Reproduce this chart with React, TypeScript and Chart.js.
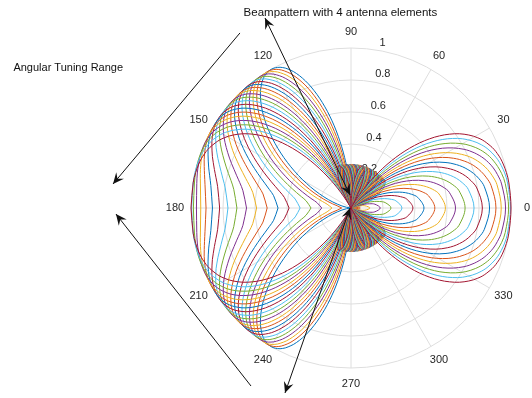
import React, { useEffect, useRef } from "react";
import { Chart, registerables } from "chart.js";

Chart.register(...registerables);

// ---------- data ----------
const chartTitle = "Beampattern with 4 antenna elements";
const annotationLabel = "Angular Tuning Range";
const angleTicks = [0, 30, 60, 90, 120, 150, 180, 210, 240, 270, 300, 330];
const radialTicks = [0.2, 0.4, 0.6, 0.8, 1];
const radialTickLabels = ["0.2", "0.4", "0.6", "0.8", "1"];

// progressive phase shift between neighbouring elements, one curve per value (degrees)
const phaseShiftsDeg = [
  90, 94.5, 99, 103.5, 108, 112.5, 117, 121.5, 126, 130.5, 135,
  139.5, 144, 148.5, 153, 157.5, 162, 166.5, 171, 175.5, 180,
];

// normalised |array factor| of the 4-element array, tabulated against the
// normalised inter-element phase (0 .. 180 deg of phase, steps of 2.25 deg)
const arrayFactor = [
  1.0, 0.999, 0.996, 0.991, 0.985, 0.976, 0.966, 0.953, 0.939, 0.924,
  0.906, 0.887, 0.866, 0.844, 0.821, 0.796, 0.769, 0.742, 0.713, 0.684,
  0.653, 0.622, 0.59, 0.557, 0.524, 0.49, 0.456, 0.422, 0.387, 0.353,
  0.318, 0.284, 0.25, 0.216, 0.183, 0.151, 0.119, 0.088, 0.058, 0.028,
  0.0, 0.027, 0.053, 0.078, 0.102, 0.124, 0.145, 0.164, 0.182, 0.198,
  0.213, 0.226, 0.237, 0.247, 0.255, 0.262, 0.267, 0.27, 0.272, 0.272,
  0.271, 0.268, 0.263, 0.257, 0.25, 0.241, 0.231, 0.22, 0.208, 0.195,
  0.18, 0.165, 0.149, 0.132, 0.114, 0.096, 0.077, 0.058, 0.039, 0.02,
  0.0,
];

const lineColors = ["#0072BD", "#D95319", "#EDB120", "#7E2F8E", "#77AC30", "#4DBEEE", "#A2142F"];

// ---------- helpers ----------
const HALF = arrayFactor.length - 1; // 80 table steps = 180 deg of phase
const PHASE_STEP = 180 / HALF;

function curvePoints(phaseDeg: number) {
  const offset = Math.round(phaseDeg / PHASE_STEP);
  const upper: { x: number; y: number }[] = [];
  for (let k = 0; k <= 2 * HALF; k++) {
    let a = Math.abs(k - HALF + offset);
    if (a > HALF) a = 2 * HALF - a;
    const r = arrayFactor[a];
    const u = -1 + k / HALF; // cos(theta), theta from 180 to 0 deg
    upper.push({ x: r * u, y: r * Math.sqrt(Math.max(0, 1 - u * u)) });
  }
  const lower = upper
    .slice(0, upper.length - 1)
    .reverse()
    .map((p) => ({ x: p.x, y: -p.y }));
  return upper.concat(lower);
}

const FONT = '"Liberation Sans", Arial, Helvetica, sans-serif';

function arrowHead(ctx: CanvasRenderingContext2D, tx: number, ty: number, fx: number, fy: number) {
  const ang = Math.atan2(ty - fy, tx - fx);
  const len = 11;
  const half = 5;
  const notch = 7;
  const c = Math.cos(ang);
  const s = Math.sin(ang);
  const bx = tx - c * len;
  const by = ty - s * len;
  ctx.beginPath();
  ctx.moveTo(tx, ty);
  ctx.lineTo(bx - s * half, by + c * half);
  ctx.lineTo(tx - c * notch, ty - s * notch);
  ctx.lineTo(bx + s * half, by - c * half);
  ctx.closePath();
  ctx.fill();
}

const polarPlugin = {
  id: "polarFrame",
  beforeDatasetsDraw(chart: any) {
    const { ctx, scales } = chart;
    const sx = scales.x;
    const sy = scales.y;
    const cx = sx.getPixelForValue(0);
    const cy = sy.getPixelForValue(0);
    const R = sx.getPixelForValue(1) - cx;
    ctx.save();
    ctx.strokeStyle = "#dedede";
    ctx.lineWidth = 1;
    radialTicks.forEach((r) => {
      ctx.beginPath();
      ctx.arc(cx, cy, R * r, 0, Math.PI * 2);
      ctx.stroke();
    });
    for (let d = 0; d < 180; d += 30) {
      const a = (d * Math.PI) / 180;
      ctx.beginPath();
      ctx.moveTo(cx - R * Math.cos(a), cy + R * Math.sin(a));
      ctx.lineTo(cx + R * Math.cos(a), cy - R * Math.sin(a));
      ctx.stroke();
    }
    ctx.fillStyle = "#262626";
    ctx.font = `11px ${FONT}`;
    ctx.textAlign = "center";
    ctx.textBaseline = "middle";
    angleTicks.forEach((d) => {
      const a = (d * Math.PI) / 180;
      ctx.fillText(String(d), cx + 1.1 * R * Math.cos(a), cy - 1.1 * R * Math.sin(a));
    });
    ctx.textAlign = "left";
    ctx.textBaseline = "bottom";
    const a82 = (82 * Math.PI) / 180;
    radialTicks.forEach((r, i) => {
      const rr = r + 0.01;
      ctx.fillText("  " + radialTickLabels[i], cx + R * rr * Math.cos(a82), cy - R * rr * Math.sin(a82));
    });
    ctx.restore();
  },
  afterDatasetsDraw(chart: any) {
    const { ctx, scales } = chart;
    const px = (v: number) => scales.x.getPixelForValue(v);
    const py = (v: number) => scales.y.getPixelForValue(v);
    ctx.save();
    ctx.fillStyle = "#111";
    ctx.font = `11.5px ${FONT}`;
    ctx.textAlign = "center";
    ctx.textBaseline = "middle";
    ctx.fillText(chartTitle, px(-0.066), py(1.219));
    ctx.textAlign = "left";
    ctx.font = `11px ${FONT}`;
    ctx.fillText(annotationLabel, px(-2.11), py(0.875));

    // annotation arrows, in plot units: [x1, y1, x2, y2, headAtStart, headAtEnd]
    const arrows: [number, number, number, number, boolean, boolean][] = [
      [-0.006, 0.081, -0.5375, 1.1875, true, true],
      [-0.006, 0.0, -0.4125, -1.156, true, true],
      [-0.694, 1.094, -1.4875, 0.15, false, true],
      [-0.625, -1.1125, -1.469, -0.0375, false, true],
    ];
    ctx.strokeStyle = "#111";
    ctx.fillStyle = "#111";
    ctx.lineWidth = 1;
    arrows.forEach(([x1, y1, x2, y2, h1, h2]) => {
      const X1 = px(x1), Y1 = py(y1), X2 = px(x2), Y2 = py(y2);
      ctx.beginPath();
      ctx.moveTo(X1, Y1);
      ctx.lineTo(X2, Y2);
      ctx.stroke();
      if (h2) arrowHead(ctx, X2, Y2, X1, Y1);
      if (h1) arrowHead(ctx, X1, Y1, X2, Y2);
    });
    ctx.restore();
  },
};

export default function App() {
  const canvasRef = useRef<HTMLCanvasElement | null>(null);

  useEffect(() => {
    const canvas = canvasRef.current;
    if (!canvas) return;
    const datasets = phaseShiftsDeg.map((ph, j) => ({
      label: `phase ${ph}`,
      data: curvePoints(ph),
      showLine: true,
      borderColor: lineColors[j % lineColors.length],
      backgroundColor: lineColors[j % lineColors.length],
      borderWidth: 1,
      pointRadius: 0,
      pointHoverRadius: 0,
      tension: 0.35,
      fill: false,
      order: phaseShiftsDeg.length - 1 - j,
    }));
    const chart = new Chart(canvas, {
      type: "scatter",
      data: { datasets },
      options: {
        animation: false,
        responsive: false,
        maintainAspectRatio: false,
        events: [],
        layout: { padding: 0 },
        elements: { line: { capBezierPoints: false } },
        plugins: { legend: { display: false }, tooltip: { enabled: false }, title: { display: false } },
        scales: {
          x: { type: "linear", display: false, min: -351 / 160, max: 181 / 160 },
          y: { type: "linear", display: false, min: -190 / 160, max: 208 / 160 },
        },
      },
      plugins: [polarPlugin],
    });
    return () => chart.destroy();
  }, []);

  return (
    <div style={{ position: "fixed", left: 0, top: 0, width: 532, height: 398, background: "#fff" }}>
      <canvas ref={canvasRef} width={532} height={398} style={{ display: "block" }} />
    </div>
  );
}
